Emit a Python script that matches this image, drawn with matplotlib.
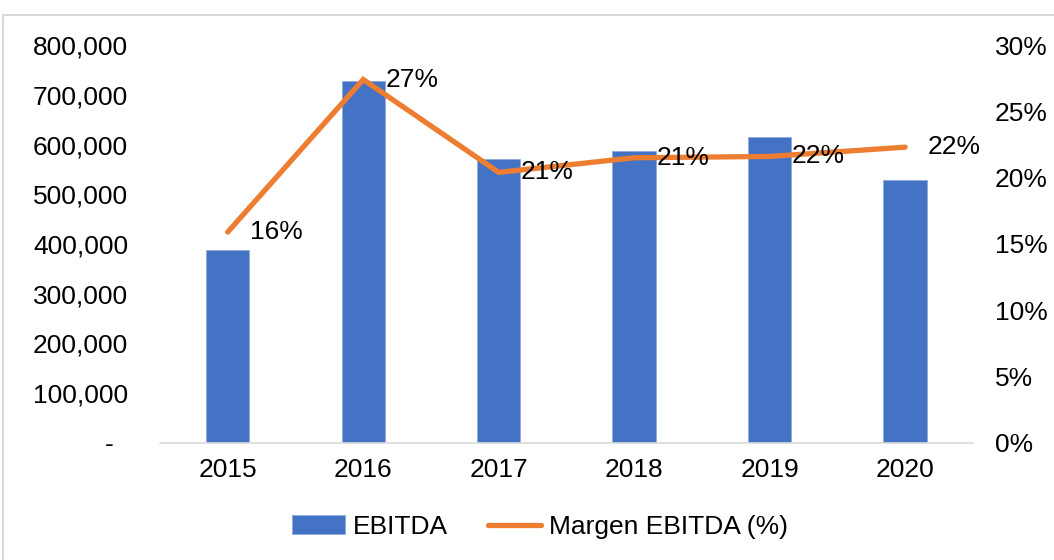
import matplotlib.pyplot as plt
from matplotlib.patches import Rectangle
from matplotlib.ticker import FuncFormatter

plt.rcParams['font.family'] = ['Liberation Sans', 'DejaVu Sans']

# Datos
years = ['2015', '2016', '2017', '2018', '2019', '2020']
ebitda = [388000, 728000, 571000, 587000, 615000, 529000]
margen = [15.9, 27.4, 20.4, 21.5, 21.6, 22.3]
margen_labels = ['16%', '27%', '21%', '21%', '22%', '22%']

blue = '#4472C4'
orange = '#ED7D31'
fs = 19

fig = plt.figure(figsize=(10.54, 5.6), dpi=100)
ax = fig.add_axes([0.1518, 0.209, 0.7712, 0.7106])
ax2 = ax.twinx()

x = range(len(years))
ax.bar(x, ebitda, width=0.32, color=blue, edgecolor='#8FAADC', linewidth=0.6,
       label='EBITDA', zorder=2)
ax2.plot(x, margen, color=orange, linewidth=3.8, solid_capstyle='round',
         solid_joinstyle='miter', label='Margen EBITDA (%)', zorder=3)

for i, (m, lab) in enumerate(zip(margen, margen_labels)):
    ax2.annotate(lab, (i, m), xytext=(16, 0), textcoords='offset points',
                 ha='left', va='center', fontsize=fs, color='black')

ax.set_xlim(-0.5, len(years) - 0.5)
ax.set_ylim(0, 800000)
ax2.set_ylim(0, 30)
ax.set_yticks(range(0, 800001, 100000))
ax2.set_yticks(range(0, 31, 5))
ax.yaxis.set_major_formatter(FuncFormatter(lambda v, p: '-  ' if v == 0 else f'{int(v):,}'))
ax2.yaxis.set_major_formatter(FuncFormatter(lambda v, p: f'{int(v)}%'))
ax.set_xticks(list(x))
ax.set_xticklabels(years)

for a in (ax, ax2):
    for s in a.spines.values():
        s.set_visible(False)
ax.spines['bottom'].set_visible(True)
ax.spines['bottom'].set_color('#D9D9D9')
ax.spines['bottom'].set_linewidth(1.2)

ax.tick_params(axis='y', length=0, pad=23, labelsize=fs)
ax.tick_params(axis='x', length=0, pad=11, labelsize=fs)
ax2.tick_params(axis='y', length=0, pad=16, labelsize=fs)

# borde del gráfico
fig.patches.append(Rectangle((3 / 1054, -0.1), 1.2, 1 - 15 / 560 + 0.1,
                             transform=fig.transFigure, fill=False,
                             edgecolor='#D9D9D9', linewidth=1.5))

h1, l1 = ax.get_legend_handles_labels()
h2, l2 = ax2.get_legend_handles_labels()
fig.legend(h1 + h2, l1 + l2, loc='center', bbox_to_anchor=(540 / 1054, 0.059),
           ncol=2, frameon=False, fontsize=fs, handlelength=2.0,
           handletextpad=0.3, columnspacing=1.5)

fig.savefig('out.png', dpi=100)
